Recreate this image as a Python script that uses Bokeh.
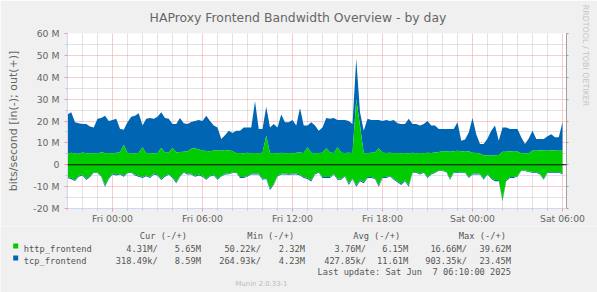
import pandas as pd
from bokeh.plotting import figure
from bokeh.layouts import column
from bokeh.models import (ColumnDataSource, Range1d, FixedTicker, DatetimeTickFormatter,
                          CustomJSTickFormatter, LinearAxis, Label, BoxAnnotation, Span)
from bokeh.embed import file_html
from bokeh.resources import INLINE

# ---------------- data (values in Mbit/s, one sample every 15 minutes) ----------------
start_time = "2025-06-05 21:00"
sample_step = "15min"

http_out = [5.0, 5.5, 5.2, 5.0, 5.6, 5.3, 5.2, 5.4, 5.0, 5.8,
            5.3, 5.4, 5.2, 5.5, 5.6, 9.2, 5.3, 5.4, 5.2, 5.5,
            8.0, 5.3, 5.4, 5.2, 5.4, 7.7, 5.5, 5.6, 7.8, 5.6,
            5.8, 6.0, 6.2, 7.3, 7.5, 7.0, 6.5, 6.3, 6.2, 6.5,
            6.6, 6.4, 6.7, 6.5, 6.3, 5.3, 5.4, 5.2, 5.5, 5.3,
            5.4, 5.3, 5.5, 13.3, 5.3, 5.4, 5.2, 5.5, 5.3, 5.4,
            5.2, 5.5, 5.6, 5.4, 8.0, 5.5, 5.3, 5.4, 5.5, 7.5,
            5.6, 5.4, 8.0, 5.5, 5.4, 5.5, 5.4, 30.0, 18.0, 5.3,
            5.4, 5.5, 5.6, 7.5, 5.5, 5.4, 5.5, 5.3, 5.4, 5.3,
            5.4, 5.2, 5.5, 5.3, 5.4, 5.3, 5.5, 5.4, 5.6, 5.8,
            6.2, 6.2, 6.0, 6.2, 6.4, 6.2, 6.0, 6.2, 5.5, 5.4,
            5.2, 4.2, 4.2, 4.2, 4.3, 4.5, 6.0, 6.0, 6.2, 6.0,
            6.1, 5.3, 5.2, 5.3, 6.5, 6.4, 6.6, 6.5, 6.4, 6.6,
            6.5, 6.4, 6.5]

tcp_out = [18.0, 18.5, 14.2, 14.0, 13.0, 13.3, 12.3, 11.6, 16.0, 15.6,
           17.1, 14.6, 15.3, 15.5, 10.9, 6.8, 14.1, 16.6, 17.2, 18.0,
           10.0, 15.7, 16.0, 15.8, 16.6, 16.3, 15.9, 15.4, 10.8, 13.0,
           15.6, 13.0, 12.4, 12.2, 12.5, 13.5, 13.5, 16.1, 13.8, 11.5,
           10.4, 5.4, 6.8, 9.1, 8.2, 10.3, 10.2, 11.8, 11.5, 11.7,
           23.6, 11.1, 10.9, 13.2, 11.7, 13.2, 11.8, 17.5, 14.1, 14.0,
           15.3, 12.5, 20.4, 12.6, 10.0, 13.9, 12.7, 10.2, 11.5, 13.9,
           15.4, 16.0, 12.5, 15.0, 15.1, 14.5, 13.2, 18.5, 6.0, 10.3,
           15.6, 15.0, 14.9, 13.0, 14.5, 15.1, 14.5, 15.2, 13.6, 13.3,
           13.2, 15.8, 13.1, 13.3, 12.6, 13.3, 14.5, 12.6, 12.4, 10.6,
           10.2, 10.2, 10.4, 10.2, 13.0, 4.8, 5.5, 8.6, 15.9, 8.6,
           4.3, 5.3, 7.8, 11.4, 13.7, 6.5, 11.0, 11.0, 10.2, 10.4,
           10.3, 7.3, 4.3, 6.7, 9.1, 5.4, 5.2, 5.3, 6.6, 7.4,
           6.1, 6.2, 12.9]

http_in = [5.6, 6.0, 7.0, 5.0, 4.5, 6.5, 5.0, 3.3, 3.5, 5.0,
           9.4, 6.0, 4.0, 4.5, 4.0, 5.0, 3.5, 3.3, 4.5, 5.0,
           5.6, 4.8, 5.6, 4.0, 4.5, 6.4, 5.0, 4.2, 5.5, 7.9,
           5.0, 3.3, 4.0, 4.0, 5.0, 4.5, 5.0, 6.4, 5.0, 4.5,
           6.4, 5.0, 4.0, 4.0, 3.5, 3.3, 5.6, 5.6, 5.0, 4.0,
           4.0, 4.0, 6.4, 6.0, 10.9, 8.6, 5.0, 4.0, 4.0, 4.2,
           4.0, 4.0, 4.5, 5.6, 6.0, 7.1, 4.0, 3.3, 5.6, 5.6,
           5.6, 4.0, 6.4, 6.4, 5.0, 8.6, 6.0, 9.4, 7.0, 7.9,
           5.6, 5.6, 6.0, 9.4, 5.6, 5.6, 5.0, 6.4, 7.5, 8.6,
           7.0, 9.4, 3.5, 3.3, 4.0, 3.3, 5.6, 4.0, 3.5, 2.6,
           2.6, 3.0, 6.4, 3.3, 3.3, 3.5, 3.3, 5.6, 4.0, 4.0,
           4.0, 6.4, 4.0, 6.0, 7.0, 7.0, 16.0, 7.0, 5.6, 5.6,
           5.0, 2.6, 2.6, 3.0, 3.3, 3.3, 4.0, 6.4, 3.3, 3.3,
           3.3, 3.3, 4.0]

tcp_in = [0.5, 0.6, 0.4, 0.5, 0.4, 0.5, 0.6, 0.4, 0.3, 0.5,
          0.6, 0.5, 0.4, 0.4, 0.5, 0.5, 0.4, 0.3, 0.4, 0.5,
          0.5, 0.4, 0.5, 0.4, 0.4, 0.6, 0.5, 0.4, 0.5, 0.6,
          0.5, 0.3, 0.4, 0.4, 0.5, 0.4, 0.5, 0.5, 0.4, 0.4,
          0.5, 0.4, 0.4, 0.3, 0.3, 0.3, 0.4, 0.5, 0.4, 0.4,
          0.4, 0.4, 0.5, 0.5, 0.6, 0.5, 0.4, 0.4, 0.4, 0.4,
          0.4, 0.4, 0.4, 0.5, 0.5, 0.5, 0.4, 0.3, 0.4, 0.5,
          0.5, 0.4, 0.5, 0.5, 0.4, 0.6, 0.5, 0.6, 0.5, 0.5,
          0.4, 0.5, 0.5, 0.6, 0.4, 0.5, 0.4, 0.5, 0.5, 0.6,
          0.5, 0.6, 0.3, 0.3, 0.4, 0.3, 0.4, 0.4, 0.3, 0.3,
          0.3, 0.3, 0.5, 0.3, 0.3, 0.3, 0.3, 0.4, 0.4, 0.4,
          0.4, 0.5, 0.4, 0.5, 0.5, 0.5, 0.7, 0.5, 0.4, 0.4,
          0.4, 0.3, 0.3, 0.3, 0.3, 0.3, 0.4, 0.5, 0.3, 0.3,
          0.3, 0.3, 0.3]

y_major_ticks = [-20, -10, 0, 10, 20, 30, 40, 50, 60]
y_minor_ticks = [-15, -5, 5, 15, 25, 35, 45, 55]
x_major_ticks = ["2025-06-06 00:00", "2025-06-06 06:00", "2025-06-06 12:00",
                 "2025-06-06 18:00", "2025-06-07 00:00", "2025-06-07 06:00"]
x_view = ("2025-06-05 21:00", "2025-06-07 06:16")

series_names = ["http_frontend", "tcp_frontend"]
series_colors = ["#00CC00", "#0066B3"]
legend_headers = ["Cur (-/+)", "Min (-/+)", "Avg (-/+)", "Max (-/+)"]
legend_values = [
    ["4.31M/", "5.65M", "50.22k/", "2.32M", "3.76M/", "6.15M", "16.66M/", "39.62M"],
    ["318.49k/", "8.59M", "264.93k/", "4.23M", "427.85k/", "11.61M", "903.35k/", "23.45M"],
]
last_update = "Last update: Sat Jun  7 06:10:00 2025"
title_text = "HAProxy Frontend Bandwidth Overview - by day"
y_label = "bits/second [in(-); out(+)]"
side_text = "RRDTOOL / TOBI OETIKER"
footer_text = "Munin 2.0.33-1"

# ---------------- build ----------------
def ms(s):
    return pd.Timestamp(s).value / 1e6

times = pd.date_range(start_time, periods=len(http_out), freq=sample_step)
src = ColumnDataSource(dict(
    t=times,
    zero=[0.0] * len(http_out),
    http_top=http_out,
    out_top=[a + b for a, b in zip(http_out, tcp_out)],
    http_bot=[-a for a in http_in],
    in_bot=[-(a + b) for a, b in zip(http_in, tcp_in)],
))

W = 597
H_MAIN = 226
H_LEG = 292 - H_MAIN
FL, FR, FT, FB = 67, 566, 33, 209   # frame edges in canvas pixels

FONT = "#666666"
GRID = "#C4C4C4"
MGRID = "#F29A9A"
AXIS = "#CFD6F8"
BACK = "#F0F0F0"

p = figure(width=W, height=H_MAIN, x_axis_type="datetime",
           x_range=Range1d(ms(x_view[0]), ms(x_view[1])),
           y_range=Range1d(y_major_ticks[0], y_major_ticks[-1]),
           output_backend="svg", toolbar_location=None,
           min_border_left=FL, min_border_right=W - FR,
           min_border_top=FT, min_border_bottom=H_MAIN - FB,
           background_fill_color="#FFFFFF", border_fill_color=BACK,
           outline_line_color=None, frame_align=False)

# stacked areas (out positive, in negative)
p.varea(x="t", y1="http_top", y2="out_top", source=src, fill_color=series_colors[1])
p.varea(x="t", y1="zero", y2="http_top", source=src, fill_color=series_colors[0])
p.varea(x="t", y1="in_bot", y2="http_bot", source=src, fill_color=series_colors[1])
p.varea(x="t", y1="http_bot", y2="zero", source=src, fill_color=series_colors[0])
p.add_layout(Span(location=0, dimension="width", line_color="#000000", line_width=1))

# axes and grids
hours = pd.date_range("2025-06-05 21:00", "2025-06-07 06:00", freq="1h")
x_minor = [ms(h) for h in hours if h.hour % 6 != 0]
xt = FixedTicker(ticks=[ms(s) for s in x_major_ticks], minor_ticks=x_minor)
yt = FixedTicker(ticks=y_major_ticks, minor_ticks=y_minor_ticks)

xa = p.xaxis[0]
xa.ticker = xt
fmt = "%a %H:%M"
xa.formatter = DatetimeTickFormatter(hours=fmt, hourmin=fmt, days=fmt, minutes=fmt,
                                     minsec=fmt, months=fmt, years=fmt)
ya = p.yaxis[0]
ya.ticker = yt
ya.formatter = CustomJSTickFormatter(code="return tick == 0 ? '0' : tick + ' M';")
ya.axis_label = y_label
ya.axis_label_text_font = "DejaVu Sans"
ya.axis_label_text_font_size = "11px"
ya.axis_label_text_font_style = "normal"
ya.axis_label_text_color = FONT
ya.axis_label_standoff = 10

for ax in (xa, ya):
    ax.axis_line_color = AXIS
    ax.major_tick_line_color = MGRID
    ax.minor_tick_line_color = GRID
    ax.major_tick_in = 0
    ax.major_tick_out = 3
    ax.minor_tick_in = 0
    ax.minor_tick_out = 2
    ax.major_label_text_font = "DejaVu Sans"
    ax.major_label_text_font_size = "9.3px"
    ax.major_label_text_color = FONT
ya.major_label_standoff = 5
xa.major_label_standoff = 1

# right frame edge: a plain axis line with small tick marks, no labels
ra = LinearAxis(ticker=FixedTicker(ticks=[], minor_ticks=y_major_ticks),
                axis_line_color="#A0A0A0", major_tick_line_color=None,
                minor_tick_line_color="#A0A0A0", minor_tick_in=0, minor_tick_out=2)
p.add_layout(ra, "right")

for g, t in ((p.xgrid[0], xt), (p.ygrid[0], yt)):
    g.ticker = t
    g.grid_line_color = MGRID
    g.grid_line_dash = "1 1"
    g.minor_grid_line_color = GRID
    g.minor_grid_line_dash = "1 1"

# title (above panel) and vertical side text (right panel); screen units are panel-relative
p.add_layout(Label(x=297.5 - FL, y=FT - 17.3, x_units="screen", y_units="screen",
                   text=title_text, text_font="DejaVu Sans", text_font_size="12.4px",
                   text_color=FONT, text_align="center", text_baseline="alphabetic"), "above")
p.add_layout(Label(x=17, y=FB - 56, x_units="screen", y_units="screen",
                   text=side_text, text_font="DejaVu Sans", text_font_size="7.9px",
                   text_color="#C4C4C4", text_align="center", text_baseline="middle",
                   angle=-1.5708), "right")

# ---------------- legend strip (pixel coordinates of the strip) ----------------
leg = figure(width=W, height=H_LEG, x_range=Range1d(0, W), y_range=Range1d(H_LEG, 0),
             output_backend="svg", toolbar_location=None, min_border=0,
             min_border_left=0, min_border_right=0, min_border_top=0, min_border_bottom=0,
             x_axis_type=None, y_axis_type=None, frame_align=False,
             background_fill_color=BACK, border_fill_color=BACK, outline_line_color=None)

def text(cx, cy, s, size, color, font, align="left"):
    # keep runs of spaces visible (SVG collapses ordinary repeated spaces)
    s = s.replace("  ", " \u00a0")
    leg.add_layout(Label(x=cx, y=cy - H_MAIN, text=s, text_font=font, text_font_size=size,
                         text_color=color, text_align=align, text_baseline="alphabetic"))

MONO = "DejaVu Sans Mono"
MS = "8.7px"
LEG = "#555555"
for s, lx in zip(legend_headers, [139.3, 246.7, 352.7, 458.3]):
    text(lx, 235.5, s, MS, LEG, MONO)
col_right = [157.2, 200.5, 260.5, 304.5, 365.5, 407.8, 466.5, 510.5]
for name, col, vals, base in zip(series_names, series_colors, legend_values, [248.3, 260.2]):
    top = base - 5.3
    leg.add_layout(BoxAnnotation(left=12.7, right=17.7, top=top - H_MAIN, bottom=top + 5 - H_MAIN,
                                 fill_color=col, fill_alpha=1, line_color=None))
    text(23.3, base, name, MS, LEG, MONO)
    for v, rx in zip(vals, col_right):
        text(rx, base, v, MS, LEG, MONO, align="right")
text(510.5, 271.8, last_update, MS, LEG, MONO, align="right")
text(261, 283.5, footer_text, "6.9px", "#BBBBBB", "DejaVu Sans", align="center")

layout = column(p, leg, spacing=0)
open("out.html", "w").write(file_html(layout, INLINE))
